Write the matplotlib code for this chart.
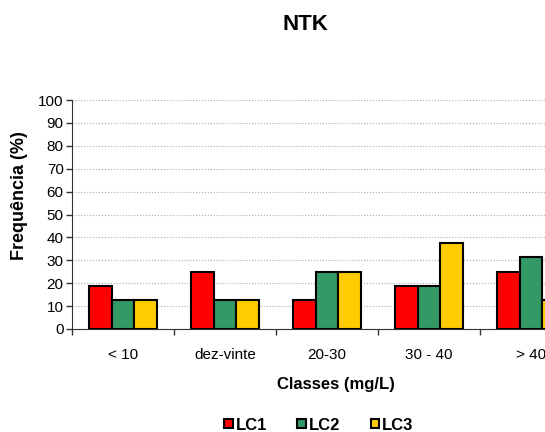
import numpy as np
import matplotlib
matplotlib.use('Agg')
import matplotlib.pyplot as plt

# dados
classes = ['< 10', 'dez-vinte', '20-30', '30 - 40', '> 40']
lc1 = [18.75, 25, 12.5, 18.75, 25]
lc2 = [12.5, 12.5, 25, 18.75, 31.25]
lc3 = [12.5, 12.5, 25, 37.5, 12.5]
series = ['LC1', 'LC2', 'LC3']
cores = ['#FF0000', '#339966', '#FFCC00']

plt.rcParams['font.family'] = ['Liberation Sans', 'DejaVu Sans']

fig = plt.figure(figsize=(5.45, 4.32), dpi=100)
# o eixo continua para além da margem direita (como no original)
ax = fig.add_axes([72 / 545, 103 / 432, 510 / 545, 229 / 432])

x = np.arange(len(classes))
w = 0.222
for i, (vals, nome, cor) in enumerate(zip([lc1, lc2, lc3], series, cores)):
    ax.bar(x + (i - 1) * w, vals, width=w, color=cor, edgecolor='black',
           linewidth=1.5, label=nome, zorder=3)

ax.set_xlim(-0.5, len(classes) - 0.5)
ax.set_ylim(0, 100)
ax.set_yticks(np.arange(0, 101, 10))
ax.set_xticks(np.arange(-0.5, len(classes), 1))
ax.set_xticklabels([])
ax.set_xticks(x, minor=True)
ax.set_xticklabels(classes, minor=True, fontsize=11)
ax.tick_params(axis='x', which='minor', length=0, pad=14)
ax.tick_params(axis='x', which='major', length=4, direction='out', width=1, color='#333333')
ax.tick_params(axis='y', labelsize=11, length=4, width=1, color='#333333', pad=2)

ax.yaxis.grid(True, linestyle=':', color='#AAAAAA', linewidth=0.8, zorder=0)
ax.spines['top'].set_visible(False)
ax.spines['right'].set_visible(False)
ax.spines['left'].set_color('#333333')
ax.spines['bottom'].set_color('#333333')

fig.text(305 / 545, 1 - 25 / 432, 'NTK', ha='center', va='center',
         fontsize=16, fontweight='bold')
fig.text(20 / 545, 1 - 196 / 432, 'Frequência (%)', ha='center', va='center',
         rotation=90, fontsize=13, fontweight='bold')
fig.text(336 / 545, 1 - 385 / 432, 'Classes (mg/L)', ha='center', va='center',
         fontsize=12, fontweight='bold')

leg = fig.legend(loc='center', bbox_to_anchor=(319 / 545, 1 - 425 / 432), ncol=3,
                 frameon=False, handlelength=0.5, handleheight=0.5, handletextpad=0.2,
                 columnspacing=1.8, prop={'weight': 'bold', 'size': 12})

fig.savefig('out.png', dpi=100)
